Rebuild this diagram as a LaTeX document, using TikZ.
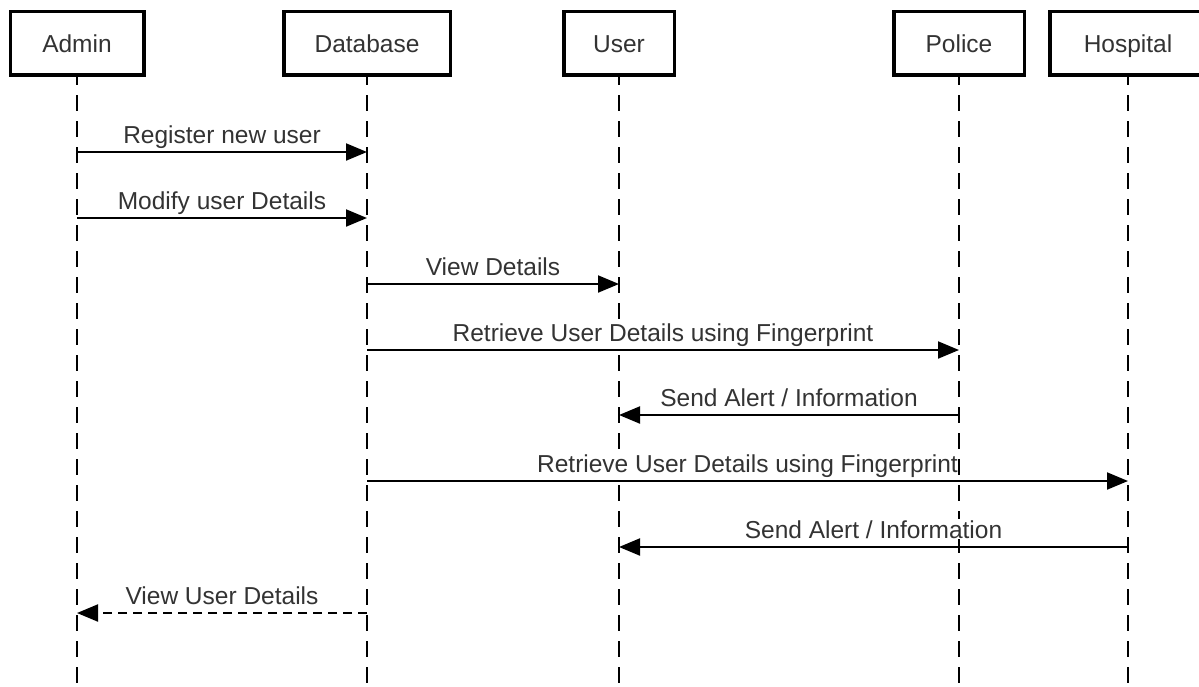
\documentclass[tikz,border=0pt]{standalone}
\usepackage{fontspec}
\setmainfont{Liberation Sans}
\usetikzlibrary{arrows.meta}
\begin{document}
\begin{tikzpicture}[x=1pt,y=-1pt,
  txt/.style={font=\fontsize{24.5}{28}\selectfont, text=black!80},
  actor/.style={draw, line width=3.5pt, minimum width=#1, minimum height=63.5pt, inner sep=0pt, text height=20pt, text depth=2pt, txt},
  life/.style={line width=2pt, dash pattern=on 16pt off 10pt},
  msg/.style={line width=2pt, -{Triangle[length=21pt,width=17pt]}},
  reply/.style={msg, dash pattern=on 9pt off 6pt},
  lbl/.style={txt, anchor=base, fill=white, inner sep=1pt, yshift=9pt}]
\clip (0,0) rectangle (1199,686);
\fill[white] (0,0) rectangle (1199,686);
% lifelines
\coordinate (bottom) at (0,686);
\path (77,43) coordinate (cA) (367,43) coordinate (cD) (619,43) coordinate (cU)
      (959,43) coordinate (cP) (1128,43) coordinate (cH);
\draw[life] (cA) -- (cA |- bottom);
\draw[life] (cD) -- (cD |- bottom);
\draw[life] (cU) -- (cU |- bottom);
\draw[life] (cP) -- (cP |- bottom);
\draw[life] (cH) -- (cH |- bottom);
% actors
\node[actor=133.5pt, fill=white] (admin) at (cA) {Admin};
\node[actor=166.5pt, fill=white] (db) at (cD) {Database};
\node[actor=110.5pt, fill=white] (user) at (cU) {User};
\node[actor=130.5pt, fill=white] (police) at (cP) {Police};
\node[actor=156.5pt, fill=white] (hosp) at (cH) {Hospital};
% messages
\draw[msg] (admin |- 0,152) -- (db |- 0,152);
\draw[msg] (admin |- 0,218) -- (db |- 0,218);
\draw[msg] (db |- 0,284) -- (user |- 0,284);
\draw[msg] (db |- 0,350) -- (police |- 0,350);
\draw[msg] (police |- 0,415) -- (user |- 0,415);
\draw[msg] (db |- 0,481) -- (hosp |- 0,481);
\draw[msg] (hosp |- 0,547) -- (user |- 0,547);
\draw[reply] (db |- 0,613) -- (admin |- 0,613);
% labels
\path (admin |- 0,152) -- node[lbl] {Register new user} (db |- 0,152);
\path (admin |- 0,218) -- node[lbl] {Modify user Details} (db |- 0,218);
\path (db |- 0,284) -- node[lbl] {View Details} (user |- 0,284);
\path (db |- 0,350) -- node[lbl] {Retrieve User Details using Fingerprint} (police |- 0,350);
\path (police |- 0,415) -- node[lbl] {Send Alert / Information} (user |- 0,415);
\path (db |- 0,481) -- node[lbl, inner xsep=0pt] {Retrieve User Details using Fingerprint} (hosp |- 0,481);
\path (hosp |- 0,547) -- node[lbl] {Send Alert / Information} (user |- 0,547);
\path (db |- 0,613) -- node[lbl] {View User Details} (admin |- 0,613);
\end{tikzpicture}
\end{document}
